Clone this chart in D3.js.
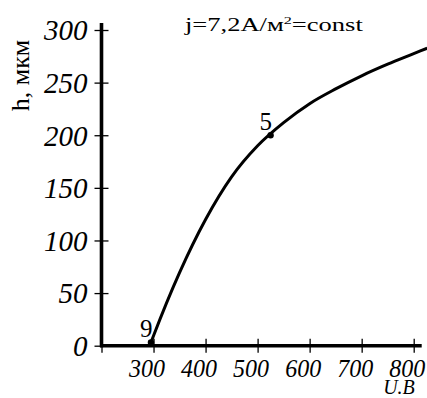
<!DOCTYPE html>
<html><head><meta charset="utf-8">
<script src="https://cdn.jsdelivr.net/npm/d3@7/dist/d3.min.js"></script>
<style>
  body { margin: 0; background: #fff; }
  svg text { font-family: "Liberation Serif", "Times New Roman", Times, serif; fill: #000; }
</style>
</head><body>
<svg id="chart" width="427" height="398"></svg>
<script>
// Coating thickness h (µm) versus voltage U (V) at constant current density
const voltage   = [295, 300, 350, 400, 450, 500, 550, 600, 650, 700, 750, 800, 826];
const thickness = [3, 9.5, 69.5, 120, 160.5, 190, 212, 230, 244, 256.5, 267.5, 277.5, 282.7];

// Numbered experimental points on the curve
const pointU = [295, 525];
const pointH = [3, 200];
const pointLabels = ["9", "5"];

const xTicks = [200, 300, 400, 500, 600, 700, 800];
const xTickLabels = ["", "300", "400", "500", "600", "700", "800"];
const yTicks = [0, 50, 100, 150, 200, 250, 300];
const yTickLabels = ["0", "50", "100", "150", "200", "250", "300"];

const serif = '"Liberation Serif", "Times New Roman", Times, serif';
const svg = d3.select("#chart");

const x = d3.scaleLinear().domain([200, 800]).range([101.5, 413.7]);
const y = d3.scaleLinear().domain([0, 300]).range([345.7, 30]);

// Y axis ticks and labels
const yAxis = d3.axisLeft(y).tickValues(yTicks)
  .tickFormat((d, i) => yTickLabels[i]).tickSizeInner(7).tickSizeOuter(0).tickPadding(7);
const gy = svg.append("g").attr("transform", `translate(${x(200)},0)`).call(yAxis)
  .attr("font-family", serif);
gy.select(".domain").remove();
gy.selectAll(".tick line").attr("x1", -7).attr("x2", 7).attr("stroke", "#000").attr("stroke-width", 1.3);
gy.selectAll(".tick text")
  .style("font-family", serif).style("font-style", "italic")
  .style("font-size", "29px").attr("dy", "0.34em");

// X axis ticks and labels
const xAxis = d3.axisBottom(x).tickValues(xTicks)
  .tickFormat((d, i) => xTickLabels[i]).tickSizeInner(7).tickSizeOuter(0).tickPadding(6);
const gx = svg.append("g").attr("transform", `translate(0,${y(0)})`).call(xAxis)
  .attr("font-family", serif);
gx.select(".domain").remove();
gx.selectAll(".tick line").attr("y1", -7).attr("y2", 7).attr("stroke", "#000").attr("stroke-width", 1.3);
gx.selectAll(".tick text")
  .style("font-family", serif).style("font-style", "italic")
  .style("font-size", "26px").attr("dx", -7).attr("dy", "0.7em")
  .attr("textLength", d => d === 200 ? null : 36).attr("lengthAdjust", "spacingAndGlyphs");

// Thick axis lines
svg.append("line")
  .attr("x1", x(200)).attr("x2", x(200))
  .attr("y1", y(0) + 1.5).attr("y2", y(300) - 7)
  .attr("stroke", "#000").attr("stroke-width", 3.6);
svg.append("line")
  .attr("x1", x(200) - 1.5).attr("x2", x(800) + 8)
  .attr("y1", y(0)).attr("y2", y(0))
  .attr("stroke", "#000").attr("stroke-width", 3.6);

// Curve
const line = d3.line().x((d, i) => x(voltage[i])).y((d, i) => y(thickness[i]))
  .curve(d3.curveMonotoneX);
svg.append("path").datum(voltage).attr("d", line)
  .attr("fill", "none").attr("stroke", "#000").attr("stroke-width", 3);

// Marked points
pointU.forEach((u, i) => {
  svg.append("circle").attr("cx", x(u)).attr("cy", y(pointH[i])).attr("r", 3.2).attr("fill", "#000");
  svg.append("text").attr("x", x(u) + 1.5).attr("y", y(pointH[i]) - 5.5)
    .attr("text-anchor", "end").style("font-size", "25px").text(pointLabels[i]);
});

// Title
const title = svg.append("text").attr("x", 185).attr("y", 31).style("font-size", "18px");
title.append("tspan").text("j=7,2A/м");
title.append("tspan").attr("dy", -7).style("font-size", "11px").text("2");
title.append("tspan").attr("dy", 7).text("=const");
const tw = title.node().getComputedTextLength();
title.attr("transform", `translate(185,0) scale(${178 / tw},1) translate(-185,0)`);

// Axis titles
svg.append("text")
  .attr("transform", "translate(29,75.5) rotate(-90)")
  .attr("text-anchor", "middle").style("font-size", "26px").text("h, мкм");
svg.append("text").attr("x", 399).attr("y", 394)
  .attr("text-anchor", "middle").style("font-style", "italic").style("font-size", "20px").text("U.B");
</script>
</body></html>
